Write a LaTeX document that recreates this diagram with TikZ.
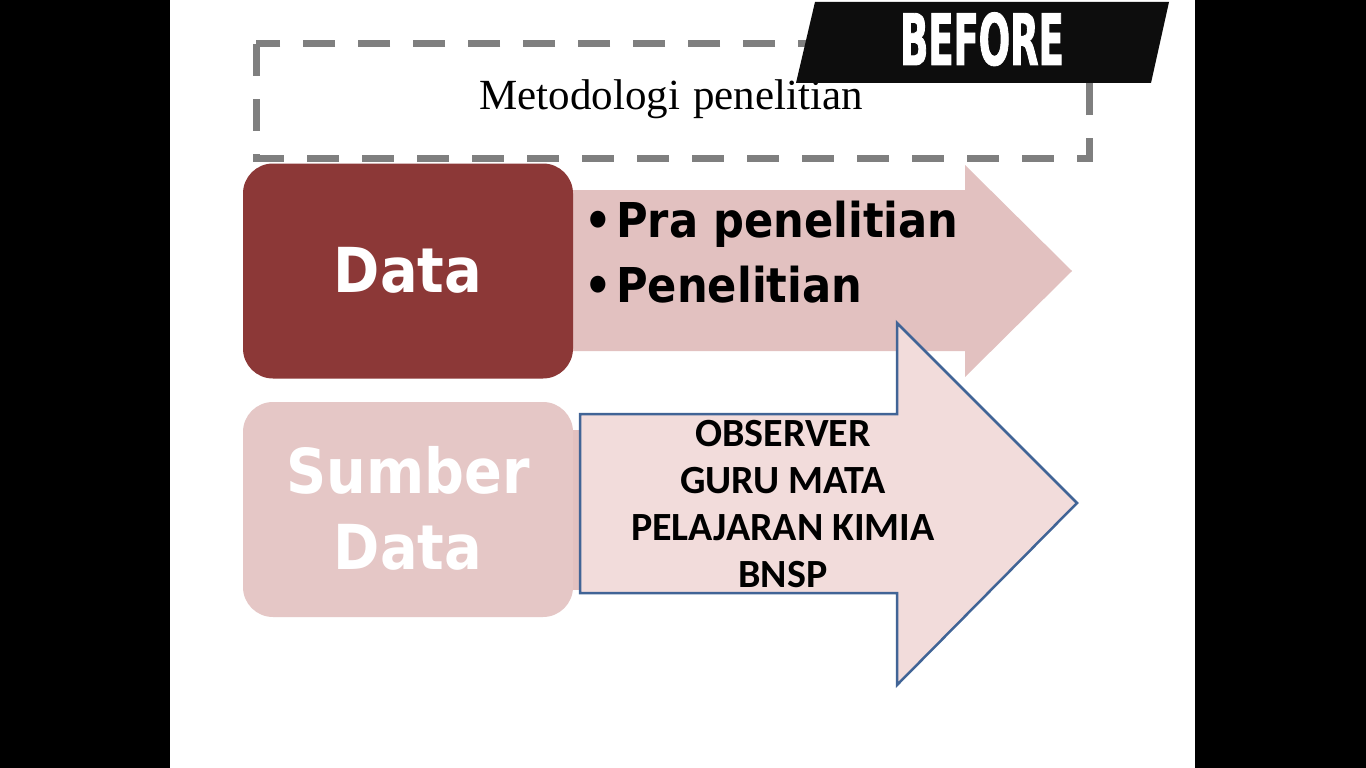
\documentclass[tikz,border=0pt]{standalone}
\usepackage{fontspec}
\newfontfamily\tahfont[FakeStretch=0.9]{DejaVu Sans}
\newfontfamily\befont[FakeStretch=0.52,FakeBold=1.2]{DejaVu Sans}
\newfontfamily\calfont{Carlito}
\newfontfamily\serfont{Liberation Serif}
\definecolor{databox}{RGB}{140,56,55}
\definecolor{arrowpink}{RGB}{226,193,192}
\definecolor{sumberbox}{RGB}{229,199,198}
\definecolor{bluefill}{RGB}{242,220,219}
\definecolor{blueline}{RGB}{65,100,150}
\definecolor{dashgray}{RGB}{127,127,127}
\definecolor{banner}{RGB}{13,13,13}
\tikzset{
  roundbox/.style={rounded corners=30pt, minimum width=330pt, minimum height=215pt, inner sep=0pt},
  bigword/.style={text=white, font=\tahfont\bfseries\fontsize{62}{70}\selectfont, inner sep=0pt, anchor=base},
  bullettext/.style={text=black, font=\tahfont\bfseries\fontsize{48}{56}\selectfont, inner sep=0pt, anchor=base west},
  bluetext/.style={text=black, font=\calfont\bfseries\fontsize{40}{48}\selectfont, inner sep=0pt, anchor=base},
}
\begin{document}
\begin{tikzpicture}[x=1pt,y=-1pt]
\useasboundingbox (0,0) rectangle (1366,768);
\fill[black] (0,0) rectangle (1366,768);
\fill[white] (170,0) rectangle (1195,768);
% dashed title box
\draw[dashgray, line width=7pt, dash pattern=on 32pt off 23pt] (256,44) rectangle (1089,158);
\node[font=\serfont\fontsize{43}{50}\selectfont, inner sep=0pt, anchor=base] (title) at (671,110) {Metodologi\hspace{0.3em}penelitian};
% BEFORE banner
\fill[banner] (815,2) -- (1169,2) -- (1151,83) -- (796,83) -- cycle;
\node[text=white, font=\befont\bfseries\fontsize{71}{80}\selectfont, inner sep=0pt, anchor=base] (before) at (982,65) {BEFORE};
% upper arrow
\fill[arrowpink] (565,190) -- (965,190) -- (965,165) -- (1072,271) -- (965,377) -- (965,351) -- (565,351) -- cycle;
\node[roundbox, fill=databox] (data) at (408,271) {};
\node[bigword] (dataw) at (408,292) {Data};
\node[bullettext] (b1) at (584,237) {•};
\node[bullettext] (t1) at (616,237) {Pra penelitian};
\node[bullettext] (b2) at (584,302) {•};
\node[bullettext] (t2) at (616,302) {Penelitian};
% lower
\fill[arrowpink] (570,430) rectangle (584,590);
\node[roundbox, fill=sumberbox] (sumber) at (408,509.5) {};
\node[bigword] (sw1) at (408,493) {Sumber};
\node[bigword] (sw2) at (408,569) {Data};
\filldraw[fill=bluefill, draw=blueline, line width=2.5pt, line join=miter]
  (580,414) -- (897,414) -- (897,323) -- (1077,503) -- (897,685) -- (897,593) -- (580,593) -- cycle;
\node[bluetext] (l1) at (783,446) {OBSERVER};
\node[bluetext] (l2) at (783,493) {GURU MATA};
\node[bluetext] (l3) at (783,540) {PELAJARAN KIMIA};
\node[bluetext] (l4) at (783,587) {BNSP};
\end{tikzpicture}
\end{document}
